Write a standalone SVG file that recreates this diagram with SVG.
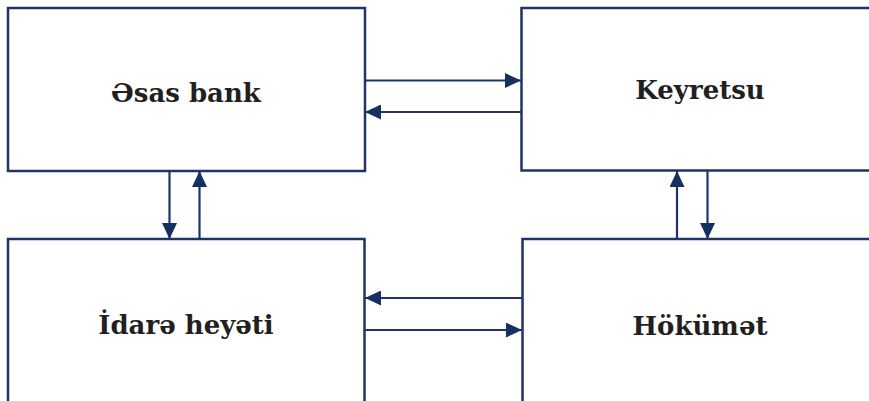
<svg xmlns="http://www.w3.org/2000/svg" width="869" height="401" viewBox="0 0 869 401">
<style>
.box{fill:#fff;stroke:#1f3566;stroke-width:2.5}
.lbl{font-family:"DejaVu Serif","Liberation Serif",serif;font-weight:bold;font-size:26px;fill:#231f20;text-anchor:middle}
.conn{stroke:#1f3566;stroke-width:2.2;fill:none;marker-end:url(#ah)}
</style>
<defs>
<marker id="ah" markerWidth="16" markerHeight="15" refX="16" refY="7.5" orient="auto" markerUnits="userSpaceOnUse">
<path d="M0,0 L16,7.5 L0,15 Z" fill="#16305f"/>
</marker>
</defs>
<rect width="869" height="401" fill="#fff"/>
<g id="node-esas-bank">
<rect class="box" x="8" y="8" width="357" height="163"/>
<text class="lbl" x="186" y="102">Əsas bank</text>
</g>
<g id="node-keyretsu">
<rect class="box" x="521.5" y="8" width="360" height="162.5"/>
<text class="lbl" x="700" y="99">Keyretsu</text>
</g>
<g id="node-idare-heyeti">
<rect class="box" x="8" y="239" width="356.5" height="175"/>
<text class="lbl" x="186" y="334">İdarə heyəti</text>
</g>
<g id="node-hokumet">
<rect class="box" x="522.5" y="239" width="360" height="175"/>
<text class="lbl" x="700" y="335">Hökümət</text>
</g>
<g id="connectors">
<line class="conn" x1="365" y1="80.5" x2="521" y2="80.5"/>
<line class="conn" x1="521" y1="112" x2="365" y2="112"/>
<line class="conn" x1="522" y1="298" x2="365" y2="298"/>
<line class="conn" x1="365" y1="330" x2="522" y2="330"/>
<line class="conn" x1="169.5" y1="171" x2="169.5" y2="239"/>
<line class="conn" x1="199.5" y1="239" x2="199.5" y2="171"/>
<line class="conn" x1="677" y1="239" x2="677" y2="171"/>
<line class="conn" x1="707.5" y1="171" x2="707.5" y2="239"/>
</g>
</svg>
